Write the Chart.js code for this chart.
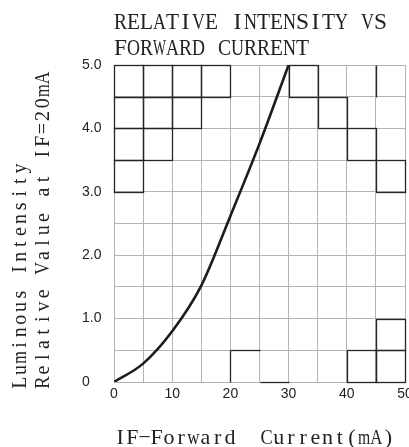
<!DOCTYPE html>
<html>
<head>
<meta charset="utf-8">
<script src="https://cdn.jsdelivr.net/npm/chart.js@4"></script>
<style>
  body { margin: 0; background: #fff; }
  canvas { display: block; }
</style>
</head>
<body>
<canvas id="ivChart" width="409" height="447"></canvas>
<script>
// forward current (mA) and relative luminous intensity
const currentMa = [0, 5, 10, 15, 20, 25, 30];
const relIntensity = [0, 0.29, 0.8, 1.52, 2.62, 3.76, 5.0];

const xTicks = [0, 10, 20, 30, 40, 50];
const yTicks = [0, 1, 2, 3, 4, 5];

const titleLines = ['RELATIVE INTENSITY VS', 'FORWARD CURRENT'];
const yTitleLines = ['Luminous Intensity', 'Relative Value at IF=20mA'];
const xTitle = 'IF\u2212Forward  Current(mA)';

// grid cells printed darker in the original sheet (lower-left corner, data units)
const darkCells = [[0, 4.5], [5, 4.5], [10, 4.5], [15, 4.5], [0, 4], [5, 4], [10, 4], [0, 3.5], [5, 3.5], [0, 3],
                   [30, 4.5], [35, 4], [40, 3.5], [45, 3], [40, 0], [45, 0], [45, 0.5]];
const darkEdges = [[45, 4.5, 45, 5], [20, 0, 20, 0.5], [20, 0.5, 25, 0.5], [25, 0, 30, 0]];

// draws text with a fixed advance per character, like the typewriter face on the sheet
function drawMono(ctx, text, x, y, cell, font) {
    ctx.font = font;
    ctx.textAlign = 'center';
    ctx.textBaseline = 'alphabetic';
    for (let i = 0; i < text.length; i++) {
        const ch = text[i];
        if (ch === ' ') continue;
        const w = ctx.measureText(ch).width;
        const sx = Math.min(1, cell * 1.0 / w);
        ctx.save();
        ctx.translate(x + i * cell + cell / 2, y);
        ctx.scale(sx, 1);
        ctx.fillText(ch, 0, 0);
        ctx.restore();
    }
}

const sheetDecor = {
    id: 'sheetDecor',
    beforeDatasetsDraw(chart) {
        const ctx = chart.ctx;
        const xs = chart.scales.x, ys = chart.scales.y;
        ctx.save();
        ctx.strokeStyle = '#262626';
        ctx.lineWidth = 1.3;
        darkCells.forEach(([cx, cy]) => {
            const x0 = Math.round(xs.getPixelForValue(cx)) + 0.5;
            const x1 = Math.round(xs.getPixelForValue(cx + 5)) + 0.5;
            const y0 = Math.round(ys.getPixelForValue(cy)) + 0.5;
            const y1 = Math.round(ys.getPixelForValue(cy + 0.5)) + 0.5;
            ctx.strokeRect(x0, y1, x1 - x0, y0 - y1);
        });
        darkEdges.forEach(([ax, ay, bx, by]) => {
            ctx.beginPath();
            ctx.moveTo(Math.round(xs.getPixelForValue(ax)) + 0.5, Math.round(ys.getPixelForValue(ay)) + 0.5);
            ctx.lineTo(Math.round(xs.getPixelForValue(bx)) + 0.5, Math.round(ys.getPixelForValue(by)) + 0.5);
            ctx.stroke();
        });
        ctx.restore();
    },
    afterDraw(chart) {
        const ctx = chart.ctx;
        const left = chart.chartArea.left;
        ctx.save();
        ctx.fillStyle = '#222';
        drawMono(ctx, titleLines[0], left, 29, 13, '24px "Liberation Serif"');
        drawMono(ctx, titleLines[1], left, 55, 13, '24px "Liberation Serif"');
        drawMono(ctx, xTitle, left, 444, 12.2, '22px "Liberation Serif"');

        ctx.save();
        ctx.translate(26, 389);
        ctx.rotate(-Math.PI / 2);
        drawMono(ctx, yTitleLines[0], 0, 0, 12.6, '20px "Liberation Serif"');
        ctx.restore();

        ctx.save();
        ctx.translate(49, 389);
        ctx.rotate(-Math.PI / 2);
        drawMono(ctx, yTitleLines[1], 0, 0, 12.7, '20px "Liberation Serif"');
        ctx.restore();
        ctx.restore();
    }
};

const gridGray = '#b4b4b4';
const tickFont = { family: '"Liberation Sans", Arial, sans-serif', size: 14 };

const ctx = document.getElementById('ivChart').getContext('2d');
const chart = new Chart(ctx, {
    type: 'line',
    data: {
        datasets: [{
            data: currentMa.map((x, i) => ({ x: x, y: relIntensity[i] })),
            borderColor: '#1c1c1c',
            borderWidth: 2.6,
            pointRadius: 0,
            cubicInterpolationMode: 'monotone',
            fill: false
        }]
    },
    options: {
        responsive: false,
        animation: false,
        layout: { padding: { left: 82, right: 4, top: 65, bottom: 0 } },
        plugins: {
            legend: { display: false },
            tooltip: { enabled: false },
            title: { display: false }
        },
        scales: {
            x: {
                type: 'linear',
                min: 0,
                max: 50,
                grid: { color: gridGray, drawTicks: false },
                border: { color: gridGray },
                ticks: {
                    stepSize: 5,
                    autoSkip: false,
                    maxRotation: 0,
                    padding: 4,
                    color: '#222',
                    font: tickFont,
                    callback: v => xTicks.includes(v) ? String(v) : ''
                },
                afterFit: s => { s.height = 65; s.paddingLeft = 0; s.paddingRight = 0; }
            },
            y: {
                min: 0,
                max: 5,
                grid: { color: gridGray, drawTicks: false },
                border: { color: gridGray },
                ticks: {
                    stepSize: 0.5,
                    autoSkip: false,
                    crossAlign: 'far',
                    color: '#222',
                    font: tickFont,
                    callback: v => yTicks.includes(v) ? (v === 0 ? '0' : v.toFixed(1)) : ''
                },
                afterFit: s => { s.width = 32; s.paddingTop = 0; s.paddingBottom = 0; }
            }
        }
    },
    plugins: [sheetDecor]
});
</script>
</body>
</html>
